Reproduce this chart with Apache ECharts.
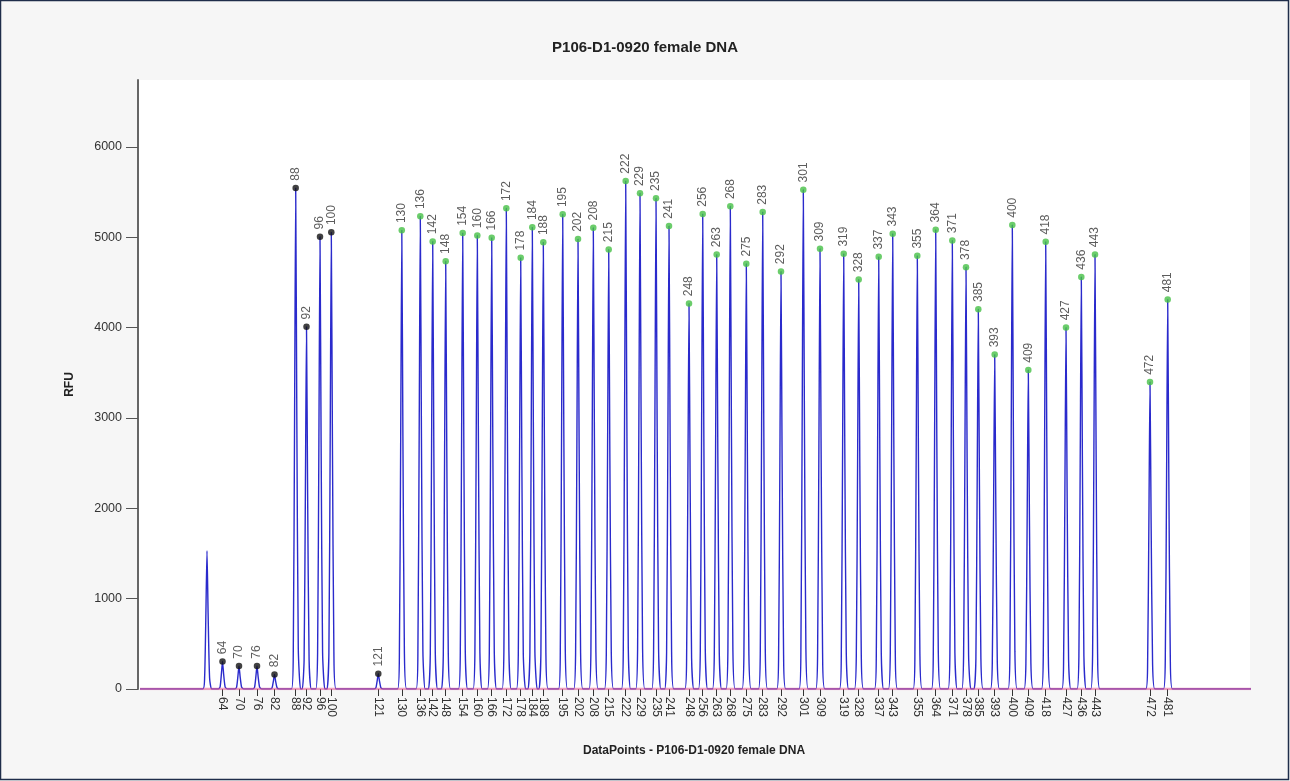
<!DOCTYPE html>
<html>
<head>
<meta charset="utf-8">
<script src="https://cdn.jsdelivr.net/npm/echarts@6/dist/echarts.min.js"></script>
<style>
html,body{margin:0;padding:0;background:#f6f6f6;}
#chart{width:1290px;height:781px;}
</style>
</head>
<body>
<div id="chart"></div>
<script>
// ---- data ----
const chartTitle = 'P106-D1-0920 female DNA';
const xAxisTitle = 'DataPoints - P106-D1-0920 female DNA';
const yAxisTitle = 'RFU';
const yTicks = [0, 1000, 2000, 3000, 4000, 5000, 6000];

// unlabeled primer peak (data point, RFU)
const primerPeakPos = [690];
const primerPeakHeight = [1530];

// labelled peaks with black markers
const blackSizes = ['64','70','76','82','88','92','96','100','121'];
const blackPos = [845,1010,1190,1365,1577,1685,1820,1933,2403];
const blackHeights = [305,255,255,160,5545,4010,5005,5054,170];

// labelled peaks with green markers
const greenSizes = ['130','136','142','148','154','160','166','172','178','184','188','195','202','208','215','222','229','235','241','248','256','263','268','275','283','292','301','309','319','328','337','343','355','364','371','378','385','393','400','409','418','427','436','443','472','481'];
const greenPos = [2638,2823,2947,3077,3247,3393,3537,3683,3827,3943,4053,4247,4400,4553,4707,4877,5020,5180,5310,5510,5647,5787,5923,6083,6247,6430,6653,6820,7057,7207,7407,7547,7793,7977,8143,8280,8403,8567,8743,8903,9077,9280,9433,9570,10120,10297];
const greenHeights = [5076,5231,4954,4735,5046,5020,4994,5320,4772,5109,4943,5253,4979,5105,4865,5623,5486,5431,5124,4266,5257,4810,5342,4706,5279,4621,5526,4872,4816,4532,4783,5038,4794,5083,4965,4669,4203,3701,5135,3530,4950,4000,4561,4810,3397,4311];

const traceStart = 20;
const traceEnd = 11130;
const xMax = 11120;
const yMax = 6740;

// ---- build series: each read peak drawn as a narrow peak on the baseline ----
const allPos = primerPeakPos.concat(blackPos, greenPos);
const allH = primerPeakHeight.concat(blackHeights, greenHeights);
const peakShape = [[-42, 0], [-24, 0.08], [-11, 0.55], [0, 1], [11, 0.55], [26, 0.08], [48, 0]];
const trace = [[traceStart, 0]];
allPos.forEach((p, i) => {
  peakShape.forEach(s => trace.push([p + s[0], allH[i] * s[1]]));
});
trace.push([traceEnd, 0]);

const allSizes = blackSizes.concat(greenSizes);
const tickPos = blackPos.concat(greenPos);
const posToLabel = {};
tickPos.forEach((p, i) => { posToLabel[p] = allSizes[i]; });

const FONT = 'Liberation Sans, Arial, sans-serif';
const markerLabel = {
  show: true,
  position: 'top',
  distance: 4,
  rotate: 90,
  align: 'left',
  verticalAlign: 'middle',
  color: '#333',
  fontSize: 12,
  fontFamily: FONT,
  formatter: p => p.data[2]
};

const chart = echarts.init(document.getElementById('chart'));
chart.setOption({
  backgroundColor: '#f6f6f6',
  animation: false,
  title: {
    text: chartTitle,
    left: 'center',
    top: 35,
    textStyle: { fontSize: 15, fontWeight: 'bold', color: '#222', fontFamily: FONT }
  },
  graphic: [{
    type: 'rect',
    shape: { x: 0.5, y: 0.5, width: 1288, height: 779 },
    style: { fill: 'none', stroke: '#1f2d4a', lineWidth: 1.5 },
    silent: true
  }],
  grid: {
    left: 138, right: 40, top: 80, bottom: 92,
    show: true, backgroundColor: '#ffffff', borderWidth: 0
  },
  xAxis: {
    type: 'value',
    min: 0, max: xMax,
    name: xAxisTitle,
    nameLocation: 'middle',
    nameGap: 56,
    nameTextStyle: { fontSize: 12, fontWeight: 'bold', color: '#222', fontFamily: FONT },
    axisLine: { show: false },
    splitLine: { show: false },
    axisTick: { show: true, customValues: tickPos, length: 7, lineStyle: { color: '#333', width: 1 } },
    axisLabel: {
      customValues: tickPos,
      rotate: -90,
      margin: 8,
      fontSize: 12,
      color: '#333',
      fontFamily: FONT,
      formatter: v => posToLabel[v] || ''
    }
  },
  yAxis: {
    type: 'value',
    min: 0, max: yMax,
    name: yAxisTitle,
    nameLocation: 'middle',
    nameGap: 62,
    nameTextStyle: { fontSize: 12, fontWeight: 'bold', color: '#222', fontFamily: FONT },
    axisLine: { show: true, lineStyle: { color: '#666', width: 2 } },
    splitLine: { show: false },
    axisTick: { show: true, customValues: yTicks, length: 12, lineStyle: { color: '#555', width: 1 } },
    axisLabel: {
      customValues: yTicks,
      margin: 16,
      fontSize: 12.5,
      color: '#333',
      fontFamily: FONT,
      formatter: v => String(v)
    }
  },
  series: [
    {
      type: 'line',
      data: trace,
      symbol: 'none',
      smooth: 0.2,
      lineStyle: { color: '#2a2acc', width: 1.4 },
      z: 2
    },
    {
      type: 'line',
      data: [[traceStart, 0], [traceEnd, 0]],
      symbol: 'none',
      lineStyle: { color: '#e0508a', width: 2.5, opacity: 0.55 },
      z: 3
    },
    {
      type: 'scatter',
      data: blackPos.map((p, i) => [p, blackHeights[i], blackSizes[i]]),
      symbolSize: 6.5,
      itemStyle: { color: '#111' },
      label: markerLabel,
      z: 4
    },
    {
      type: 'scatter',
      data: greenPos.map((p, i) => [p, greenHeights[i], greenSizes[i]]),
      symbolSize: 6.5,
      itemStyle: { color: '#46c046' },
      label: markerLabel,
      z: 4
    }
  ]
});
</script>
</body>
</html>
